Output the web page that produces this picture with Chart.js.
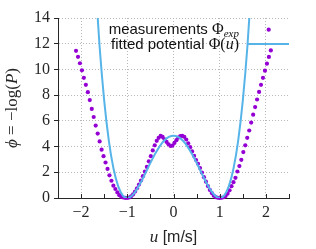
<!DOCTYPE html>
<html><head><meta charset="utf-8">
<script src="https://cdn.jsdelivr.net/npm/chart.js@4"></script>
<style>html,body{margin:0;padding:0;background:#fff}canvas{display:block}</style>
</head><body>
<canvas id="c" width="316" height="249"></canvas>
<script>
// ---- data ----
const measU = [
 -2.110,-2.067,-2.025,-1.982,-1.940,-1.897,-1.854,-1.812,-1.769,-1.727,
 -1.684,-1.641,-1.599,-1.556,-1.514,-1.471,-1.428,-1.386,-1.343,-1.301,
 -1.258,-1.215,-1.173,-1.130,-1.088,-1.045,-1.002,-0.960,-0.917,-0.875,
 -0.832,-0.789,-0.747,-0.704,-0.662,-0.619,-0.576,-0.534,-0.491,-0.449,
 -0.406,-0.363,-0.321,-0.278,-0.236,-0.193,-0.150,-0.108,-0.065,-0.023,
 0.020,0.063,0.105,0.148,0.190,0.233,0.276,0.318,0.361,0.403,
 0.446,0.489,0.531,0.574,0.616,0.659,0.702,0.744,0.787,0.829,
 0.872,0.915,0.957,1.000,1.042,1.085,1.128,1.170,1.213,1.255,
 1.298,1.341,1.383,1.426,1.468,1.511,1.554,1.596,1.639,1.681,
 1.724,1.767,1.809,1.852,1.894,1.937,1.980,2.022,2.065,2.107
];
const measPhi = [
 11.45,10.98,10.48,9.93,9.35,8.80,8.23,7.62,6.93,6.30,
 5.63,5.01,4.40,3.76,3.25,2.76,2.26,1.76,1.34,0.96,
 0.70,0.43,0.22,0.09,0.04,0.01,0.00,0.04,0.13,0.28,
 0.50,0.76,1.05,1.36,1.70,2.05,2.42,2.85,3.25,3.70,
 4.10,4.45,4.68,4.83,4.75,4.57,4.36,4.18,4.05,4.08,
 4.28,4.50,4.70,4.82,4.83,4.76,4.55,4.25,3.95,3.62,
 3.27,2.95,2.66,2.33,1.98,1.62,1.27,0.93,0.63,0.38,
 0.18,0.07,0.02,0.00,0.02,0.06,0.15,0.34,0.60,0.92,
 1.23,1.57,2.06,2.48,2.97,3.57,4.10,4.68,5.25,5.87,
 6.48,7.07,7.66,8.25,8.80,9.35,9.90,10.45,10.97,11.48
];
const fitU = [
 -1.7,-1.6,-1.5,-1.4,-1.3,-1.2,-1.1,-1.0,-0.9,-0.8,-0.7,-0.6,-0.5,-0.4,-0.3,-0.2,-0.1,
 0,
 0.1,0.2,0.3,0.4,0.5,0.6,0.7,0.8,0.9,1.0,1.1,1.2,1.3,1.4,1.5,1.6,1.7
];
const fitPhi = [
 17.32,11.80,7.58,4.47,2.31,0.94,0.21,0.00,0.175,0.63,1.26,1.99,2.73,3.42,4.02,4.47,4.75,
 4.85,
 4.75,4.47,4.02,3.42,2.73,1.99,1.26,0.63,0.175,0.00,0.21,0.94,2.31,4.47,7.58,11.80,17.32
];
const xTickValues = [-2, -1, 0, 1, 2];
const yTickValues = [0, 2, 4, 6, 8, 10, 12, 14];
const seriesLabels = ['measurements', 'fitted potential'];

// ---- styling ----
const PURPLE = '#9400D3';
const CYAN = '#56B4E9';
const AXIS = '#262626';
const GRID = '#b8b8b8';
const SERIF = '"Liberation Serif", "DejaVu Serif", serif';
const SANS = '"Liberation Sans", Arial, sans-serif';

function fmt(v) { return v < 0 ? '\u2212' + Math.abs(v) : String(v); }

function drawRich(ctx, parts, x, y, align) {
  let w = 0;
  parts.forEach(p => { ctx.font = p.f; p.w = ctx.measureText(p.t).width; w += p.w; });
  let cx = align === 'right' ? x - w : align === 'center' ? x - w / 2 : x;
  ctx.textBaseline = 'alphabetic';
  ctx.textAlign = 'left';
  parts.forEach(p => { ctx.font = p.f; ctx.fillText(p.t, cx, y + (p.dy || 0)); cx += p.w; });
}

const decor = {
  id: 'decor',
  afterDraw(chart) {
    const { ctx, chartArea: a, scales: { x } } = chart;
    ctx.save();
    // inward ticks on the x axis every 0.5
    ctx.strokeStyle = AXIS; ctx.lineWidth = 1; ctx.setLineDash([]);
    for (let v = x.min; v <= x.max + 1e-9; v += 0.5) {
      const px = Math.round(x.getPixelForValue(v)) + 0.5;
      ctx.beginPath(); ctx.moveTo(px, a.bottom); ctx.lineTo(px, a.bottom - 4); ctx.stroke();
    }
    ctx.fillStyle = AXIS;
    // x title
    drawRich(ctx, [
      { t: 'u', f: 'italic 17px ' + SERIF },
      { t: ' [m/s]', f: '16px ' + SANS }
    ], (a.left + a.right) / 2, 242, 'center');
    // y title
    ctx.save();
    ctx.translate(17, (a.top + a.bottom) / 2);
    ctx.rotate(-Math.PI / 2);
    drawRich(ctx, [
      { t: '\u03D5', f: 'italic 17px ' + SERIF },
      { t: ' = \u2212log(', f: '17px ' + SERIF },
      { t: 'P', f: 'italic 17px ' + SERIF },
      { t: ')', f: '17px ' + SERIF }
    ], 0, 0, 'center');
    ctx.restore();
    // legend
    const ds = chart.data.datasets;
    const meas = ds[1], fit = ds[0];
    ctx.fillStyle = '#111';
    drawRich(ctx, [
      { t: meas.label + ' ', f: '15px ' + SANS },
      { t: '\u03A6', f: '16px ' + SERIF },
      { t: 'exp', f: 'italic 11px ' + SERIF, dy: 3 }
    ], 239, 34, 'right');
    drawRich(ctx, [
      { t: fit.label + ' ', f: '15px ' + SANS },
      { t: '\u03A6(', f: '16px ' + SERIF },
      { t: 'u', f: 'italic 16px ' + SERIF },
      { t: ')', f: '16px ' + SERIF }
    ], 239, 48.5, 'right');
    ctx.fillStyle = meas.pointBackgroundColor;
    ctx.beginPath(); ctx.arc(268.7, 29.7, meas.pointRadius, 0, Math.PI * 2); ctx.fill();
    ctx.strokeStyle = fit.borderColor; ctx.lineWidth = fit.borderWidth;
    ctx.beginPath(); ctx.moveTo(248, 44); ctx.lineTo(289, 44); ctx.stroke();
    ctx.restore();
  }
};

Chart.defaults.font.family = SERIF;

new Chart(document.getElementById('c'), {
  type: 'scatter',
  data: {
    datasets: [
      {
        label: seriesLabels[1],
        data: fitU.map((u, i) => ({ x: u, y: fitPhi[i] })),
        showLine: true, borderColor: CYAN, backgroundColor: CYAN, borderWidth: 2,
        pointRadius: 0, cubicInterpolationMode: 'monotone', clip: 0
      },
      {
        label: seriesLabels[0],
        data: measU.map((u, i) => ({ x: u, y: measPhi[i] })),
        pointRadius: 2.1, pointBackgroundColor: PURPLE, borderColor: PURPLE,
        pointBorderWidth: 0, clip: false
      }
    ]
  },
  options: {
    responsive: false, animation: false, events: [],
    layout: { padding: { top: 18, right: 27, left: 0, bottom: 0 } },
    plugins: { legend: { display: false }, tooltip: { enabled: false } },
    scales: {
      x: {
        type: 'linear', min: -2.5, max: 2.5,
        afterBuildTicks: s => { s.ticks = xTickValues.map(v => ({ value: v })); },
        afterFit: s => { s.height = 51; },
        ticks: { font: { family: SERIF, size: 16 }, color: AXIS, padding: 5, maxRotation: 0, autoSkip: false, callback: v => fmt(v) },
        grid: { color: GRID, drawTicks: false, lineWidth: 1 },
        border: { color: AXIS, width: 1, dash: [1, 2] }
      },
      y: {
        type: 'linear', min: 0, max: 14,
        afterBuildTicks: s => { s.ticks = yTickValues.map(v => ({ value: v })); },
        afterFit: s => { s.width = 58; },
        ticks: { font: { family: SERIF, size: 16 }, color: AXIS, padding: 4, autoSkip: false, callback: v => fmt(v) },
        grid: { color: GRID, tickColor: AXIS, tickLength: 4, lineWidth: 1 },
        border: { color: AXIS, width: 1, dash: [1, 2] }
      }
    }
  },
  plugins: [decor]
});
</script>
</body></html>
